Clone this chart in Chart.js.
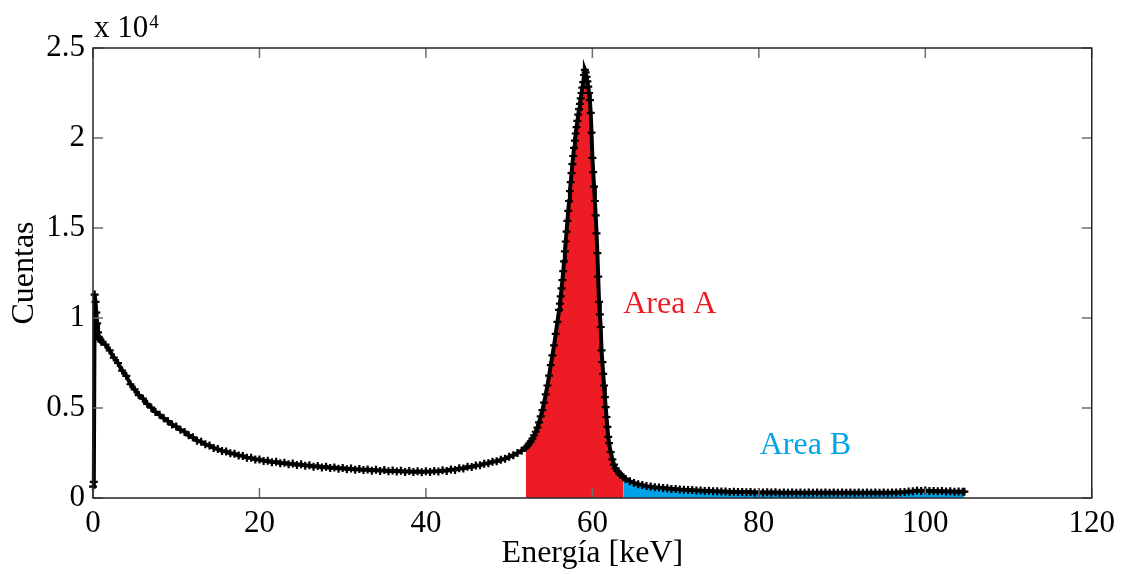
<!DOCTYPE html>
<html>
<head>
<meta charset="utf-8">
<title>Espectro de energía</title>
<script src="https://cdn.jsdelivr.net/npm/chart.js@4.4.1/dist/chart.umd.min.js"></script>
<style>
  html, body { margin: 0; padding: 0; background: #fff; }
  #wrap { width: 1122px; height: 574px; }
</style>
</head>
<body>
<div id="wrap"><canvas id="spectrum" width="1122" height="574"></canvas></div>
<script>
// Energía de cada canal [keV]
const energyKeV = [
  0, 0.1, 0.2, 0.3, 0.4, 0.5, 0.6, 0.7, 0.8, 0.9,
  1, 1.5, 2, 2.5, 3, 3.5, 4, 4.5, 5, 5.5,
  6, 6.5, 7, 7.5, 8, 8.5, 9, 9.5, 10, 10.5,
  11, 11.5, 12, 12.5, 13, 13.5, 14, 14.5, 15, 15.5,
  16, 16.5, 17, 17.5, 18, 18.5, 19, 19.5, 20, 20.5,
  21, 21.5, 22, 22.5, 23, 23.5, 24, 24.5, 25, 25.5,
  26, 26.5, 27, 27.5, 28, 28.5, 29, 29.5, 30, 30.5,
  31, 31.5, 32, 32.5, 33, 33.5, 34, 34.5, 35, 35.5,
  36, 36.5, 37, 37.5, 38, 38.5, 39, 39.5, 40, 40.5,
  41, 41.5, 42, 42.5, 43, 43.5, 44, 44.5, 45, 45.5,
  46, 46.5, 47, 47.5, 48, 48.5, 49, 49.5, 50, 50.5,
  51, 51.5,
  // pico
  52, 52.2, 52.4, 52.6, 52.8, 53, 53.2, 53.4, 53.6, 53.8,
  54, 54.2, 54.4, 54.6, 54.8, 55, 55.2, 55.4, 55.6, 55.8,
  56, 56.1, 56.2, 56.3, 56.4, 56.5, 56.6, 56.7, 56.8, 56.9,
  57, 57.1, 57.2, 57.3, 57.4, 57.5, 57.6, 57.7, 57.8, 57.9,
  58, 58.1, 58.2, 58.3, 58.4, 58.5, 58.6, 58.7, 58.8, 58.9,
  59, 59.1, 59.2, 59.3, 59.4, 59.5, 59.6, 59.7, 59.8, 59.9,
  60, 60.1, 60.2, 60.3, 60.4, 60.5, 60.6, 60.7, 60.8, 60.9,
  61, 61.1, 61.2, 61.3, 61.4, 61.5, 61.6, 61.7, 61.8, 61.9,
  62, 62.2, 62.4, 62.6, 62.8, 63, 63.2, 63.4, 63.7,
  // cola
  64, 64.5, 65, 65.5, 66, 66.5, 67, 67.5, 68, 68.5,
  69, 69.5, 70, 70.5, 71, 71.5, 72, 72.5, 73, 73.5,
  74, 74.5, 75, 75.5, 76, 76.5, 77, 77.5, 78, 78.5,
  79, 79.5, 80, 80.5, 81, 81.5, 82, 82.5, 83, 83.5,
  84, 84.5, 85, 85.5, 86, 86.5, 87, 87.5, 88, 88.5,
  89, 89.5, 90, 90.5, 91, 91.5, 92, 92.5, 93, 93.5,
  94, 94.5, 95, 95.5, 96, 96.5, 97, 97.5, 98, 98.5,
  99, 99.5, 100, 100.5, 101, 101.5, 102, 102.5, 103, 103.5,
  104, 104.5, 104.7,
];

// Cuentas por canal
const counts = [
  630, 900, 11300, 10900, 10300, 9700, 9200, 8950, 8850, 8780,
  8680, 8520, 8200, 7800, 7500, 7080, 6780, 6320, 6030, 5720,
  5520, 5230, 5020, 4780, 4620, 4430, 4270, 4080, 3970, 3790,
  3670, 3480, 3370, 3180, 3120, 2980, 2920, 2780, 2720, 2610,
  2580, 2480, 2460, 2360, 2340, 2240, 2230, 2140, 2140, 2060,
  2070, 1990, 2010, 1930, 1960, 1880, 1910, 1830, 1870, 1790,
  1820, 1740, 1780, 1700, 1740, 1660, 1700, 1630, 1670, 1600,
  1640, 1570, 1610, 1550, 1590, 1520, 1570, 1500, 1550, 1480,
  1530, 1470, 1510, 1450, 1500, 1440, 1490, 1430, 1490, 1450,
  1500, 1470, 1540, 1500, 1590, 1560, 1650, 1640, 1730, 1720,
  1810, 1820, 1900, 1930, 2010, 2040, 2120, 2180, 2290, 2380,
  2500, 2620,
  // pico
  2800, 2900, 3020, 3150, 3300, 3480, 3680, 3910, 4200, 4530,
  4880, 5300, 5760, 6250, 6800, 7380, 7920, 8480, 9120, 9780,
  10450, 10800, 11200, 11650, 12100, 12600, 13150, 13700, 14250, 14800,
  15400, 15950, 16500, 17050, 17550, 18050, 18550, 19000, 19450, 19850,
  20250, 20600, 20950, 21300, 21600, 21900, 22200, 22500, 22800, 23100,
  23500, 23780, 23650, 23400, 23150, 22850, 22500, 22100, 21400, 20300,
  18900, 18100, 17300, 16500, 15700, 14700, 13600, 12300, 10900, 10200,
  9500, 8200, 7550, 6900, 6250, 5600, 5050, 4500, 3950, 3400,
  3050, 2550, 2150, 1850, 1650, 1500, 1380, 1280, 1150,
  // cola
  1060, 930, 840, 760, 720, 660, 640, 600, 590, 550,
  540, 505, 500, 470, 465, 440, 440, 415, 415, 395,
  400, 375, 380, 355, 365, 340, 350, 330, 340, 320,
  335, 310, 325, 305, 320, 300, 315, 298, 312, 296,
  310, 295, 308, 294, 306, 293, 305, 292, 304, 291,
  303, 290, 302, 291, 303, 290, 302, 292, 304, 293,
  305, 295, 306, 296, 308, 300, 318, 330, 360, 380,
  410, 395, 410, 385, 395, 370, 385, 360, 370, 350,
  365, 345, 350,
];

// Intervalos integrados [keV]
const areaA = [52, 63.7];
const areaB = [63.7, 104.7];

// Etiquetas dentro del gráfico (posición en unidades de datos)
const areaLabels = [
  { text: 'Area A', x: 63.7, y: 10300, color: '#ED1C24' },
  { text: 'Area B', x: 80.1, y: 2450, color: '#00A2E8' },
];

const xTicks = [0, 20, 40, 60, 80, 100, 120];
const yTicks = [0, 5000, 10000, 15000, 20000, 25000];

const FONT = "'Liberation Serif', 'Times New Roman', serif";
const TICK_LEN = 10;

const points = energyKeV.map((e, i) => ({ x: e, y: counts[i] }));
const inRange = ([lo, hi]) => points.filter((p) => p.x >= lo && p.x <= hi);

// Marco completo con marcas hacia dentro, factor x 10^4 y rótulos de áreas
const frameTicks = {
  id: 'frameTicks',
  afterDatasetsDraw(chart) {
    const { ctx, chartArea: a, scales } = chart;
    ctx.save();
    ctx.lineWidth = 1.5;
    ctx.strokeStyle = '#6e6e6e';
    ctx.beginPath();
    xTicks.forEach((v) => {
      const px = scales.x.getPixelForValue(v);
      ctx.moveTo(px, a.bottom);
      ctx.lineTo(px, a.bottom - TICK_LEN);
      ctx.moveTo(px, a.top);
      ctx.lineTo(px, a.top + TICK_LEN);
    });
    yTicks.forEach((v) => {
      const py = scales.y.getPixelForValue(v);
      ctx.moveTo(a.left, py);
      ctx.lineTo(a.left + TICK_LEN, py);
      ctx.moveTo(a.right, py);
      ctx.lineTo(a.right - TICK_LEN, py);
    });
    ctx.stroke();

    ctx.strokeStyle = '#262626';
    ctx.strokeRect(a.left, a.top, a.right - a.left, a.bottom - a.top);

    // factor de escala del eje y
    ctx.fillStyle = '#000';
    ctx.textBaseline = 'alphabetic';
    ctx.textAlign = 'left';
    ctx.font = `31px ${FONT}`;
    const base = 'x 10';
    ctx.fillText(base, a.left + 1, a.top - 11);
    const w = ctx.measureText(base).width;
    ctx.font = `19px ${FONT}`;
    ctx.fillText('4', a.left + 2 + w, a.top - 20);

    ctx.font = `32px ${FONT}`;
    areaLabels.forEach((l) => {
      ctx.fillStyle = l.color;
      ctx.fillText(l.text, scales.x.getPixelForValue(l.x), scales.y.getPixelForValue(l.y));
    });
    ctx.restore();
  },
};

new Chart(document.getElementById('spectrum'), {
  type: 'scatter',
  data: {
    datasets: [
      {
        data: points,
        showLine: true,
        borderColor: '#000',
        borderWidth: 4,
        pointStyle: 'cross',
        pointRadius: 4,
        pointBorderWidth: 2.2,
        pointBorderColor: '#000',
        pointBackgroundColor: '#000',
        order: 0,
        clip: 6,
      },
      {
        data: inRange(areaA),
        showLine: true,
        borderWidth: 0,
        pointRadius: 0,
        fill: 'origin',
        backgroundColor: '#ED1C24',
        order: 1,
      },
      {
        data: inRange(areaB),
        showLine: true,
        borderWidth: 0,
        pointRadius: 0,
        fill: 'origin',
        backgroundColor: '#00A2E8',
        order: 1,
      },
    ],
  },
  options: {
    responsive: false,
    animation: false,
    devicePixelRatio: 1,
    layout: { padding: { top: 48, right: 30, left: 0, bottom: 0 } },
    plugins: {
      legend: { display: false },
      tooltip: { enabled: false },
    },
    scales: {
      x: {
        type: 'linear',
        min: 0,
        max: 120,
        afterFit(scale) {
          scale.height = 76;
        },
        afterBuildTicks(scale) {
          scale.ticks = xTicks.map((v) => ({ value: v }));
        },
        grid: { display: false, drawTicks: false },
        border: { display: false },
        ticks: {
          color: '#000',
          font: { family: FONT, size: 31 },
          padding: 7,
          maxRotation: 0,
        },
        title: {
          display: true,
          text: 'Energía [keV]',
          color: '#000',
          font: { family: FONT, size: 32 },
          padding: { top: 0, bottom: 1 },
        },
      },
      y: {
        type: 'linear',
        min: 0,
        max: 25000,
        afterFit(scale) {
          scale.width = 93;
        },
        afterBuildTicks(scale) {
          scale.ticks = yTicks.map((v) => ({ value: v }));
        },
        grid: { display: false, drawTicks: false },
        border: { display: false },
        ticks: {
          color: '#000',
          font: { family: FONT, size: 31 },
          padding: 8,
          callback: (v) => String(v / 10000),
        },
        title: {
          display: true,
          text: 'Cuentas',
          color: '#000',
          font: { family: FONT, size: 32 },
          padding: { top: 5, bottom: 0 },
        },
      },
    },
  },
  plugins: [frameTicks],
});
</script>
</body>
</html>
